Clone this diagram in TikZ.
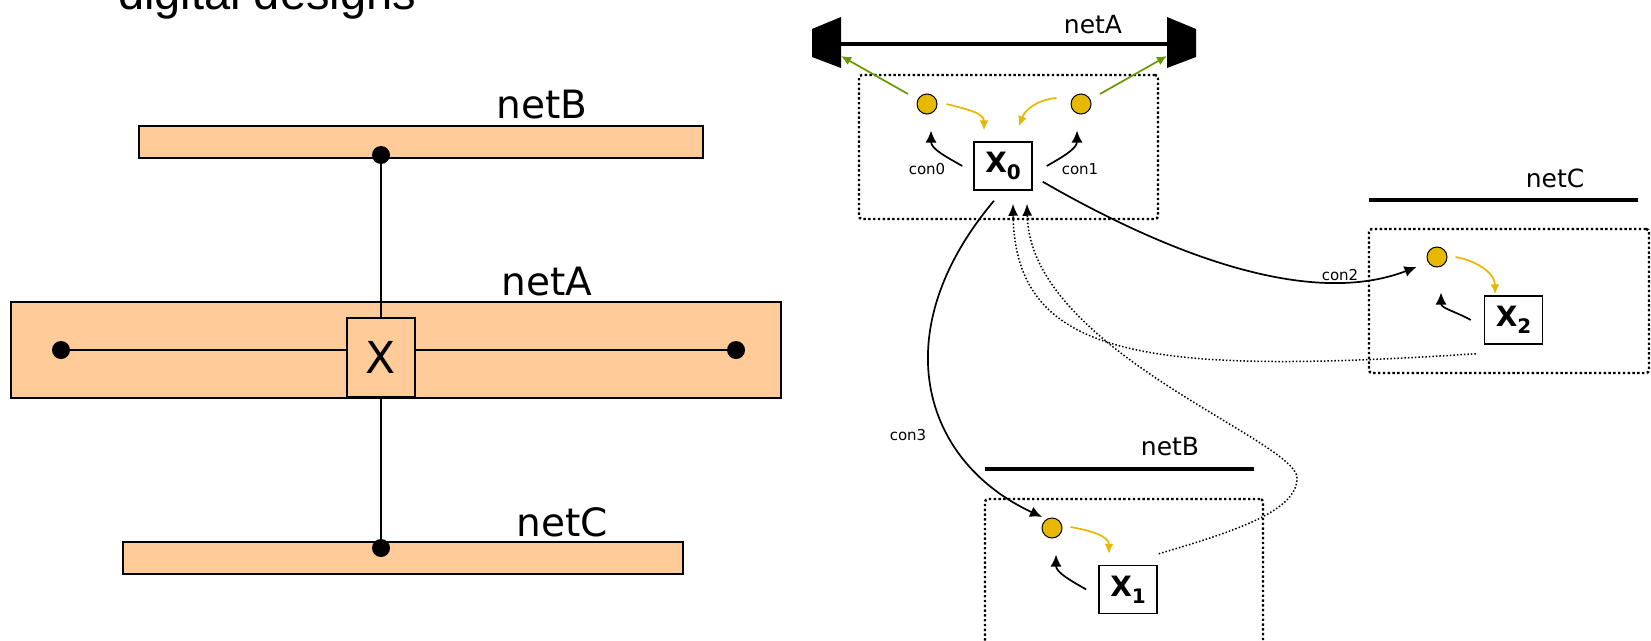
\documentclass[tikz,border=0pt]{standalone}
\usepackage{fontspec}
\setmainfont{DejaVu Sans}
\newfontfamily\titlefont{Liberation Sans}
\usetikzlibrary{arrows.meta,calc}
\definecolor{busC}{HTML}{FFCC99}
\definecolor{portC}{HTML}{E6B800}
\definecolor{bindC}{HTML}{669900}
\newcommand{\pxsize}[1]{\fontsize{#1}{#1}\selectfont}
\newcommand{\instname}[1]{{\bfseries\pxsize{28}X\raisebox{-7pt}{\pxsize{20}#1}}}
\tikzset{
  bus/.style={draw, fill=busC, line width=2.2pt, inner sep=0pt},
  pin/.style={circle, fill=black, inner sep=0pt, minimum size=18pt},
  gate/.style={draw, fill=busC, line width=2.2pt, inner sep=0pt,
               minimum width=68pt, minimum height=79pt, font=\pxsize{44}},
  lbl/.style={anchor=base, inner sep=0pt, font=\pxsize{39}},
  wire/.style={line width=4.5pt},
  cell/.style={draw, rounded corners=3pt, line width=2.4pt,
               dash pattern=on 2.4pt off 2.4pt, inner sep=0pt},
  port/.style={circle, draw, fill=portC, line width=1pt, inner sep=0pt, minimum size=20pt},
  inst/.style={draw, fill=white, line width=1.5pt, inner sep=0pt,
               minimum width=58pt, minimum height=48pt},
  netlbl/.style={anchor=base, inner sep=0pt, font=\pxsize{25}},
  conlbl/.style={inner sep=0pt, font=\pxsize{15}},
  conn/.style={-{Latex[length=12pt,width=11pt]}, line width=1.7pt},
  flow/.style={-{Latex[length=10pt,width=9pt]}, line width=1.7pt, portC},
  bind/.style={-{Latex[length=10pt,width=9pt]}, line width=1.7pt, bindC},
  back/.style={-{Latex[length=12pt,width=10pt]}, line width=1.5pt, dotted},
}

\begin{document}
\begin{tikzpicture}[x=1pt, y=-1pt]
\useasboundingbox (0,0) rectangle (1651,640);
\fill[white] (0,0) rectangle (1651,640);
\clip (0,0) rectangle (1651,640);

\node[anchor=base west, inner sep=0pt, font=\titlefont\pxsize{47}] (title) at (118,9) {digital designs};

% flat view: three nets and the cell X
\node[bus, minimum width=564pt, minimum height=32pt] (busB) at (421,142) {};
\node[bus, minimum width=770pt, minimum height=96pt] (busA) at (396,350) {};
\node[bus, minimum width=560pt, minimum height=32pt] (busC) at (403,558) {};
\node[lbl] (tB) at (542,118) {netB};
\node[lbl] (tA) at (547,295) {netA};
\node[lbl] (tC) at (562,536) {netC};
\node[gate] (gx) at (381,357.5) {X};
\node[pin] (pB) at (381,155) {};
\node[pin] (pC) at (381,548) {};
\node[pin] (pL) at (61,350) {};
\node[pin] (pR) at (736,350) {};
\draw[line width=2pt] (pB) -- (gx);
\draw[line width=2pt] (gx) -- (pC);
\draw[line width=2pt] (pL) -- (pL -| gx.west);
\draw[line width=2pt] (pR -| gx.east) -- (pR);

% object view: nets as wires
\fill (812,29) -- (841,17) -- (841,68) -- (812,57) -- cycle;
\fill (1167,17) -- (1196,29) -- (1196,57) -- (1167,68) -- cycle;
\coordinate (wAl) at (841,44);
\coordinate (wAr) at (1167,44);
\coordinate (capL) at (841,56);
\coordinate (capR) at (1167,56);
\draw[wire] (wAl) -- (wAr);
\node[netlbl] (nA) at (1093,33) {netA};
\coordinate (wCl) at (1369,200);
\coordinate (wCr) at (1638,200);
\draw[wire] (wCl) -- (wCr);
\node[netlbl] (nC) at (1555,187) {netC};
\coordinate (wBl) at (985,469);
\coordinate (wBr) at (1254,469);
\draw[wire] (wBl) -- (wBr);
\node[netlbl] (nB) at (1170,455) {netB};

% instance cells
\node[cell, minimum width=299pt, minimum height=144pt] (cellA) at (1008.5,147) {};
\node[cell, minimum width=280pt, minimum height=144pt] (cellC) at (1509,301) {};
\node[cell, minimum width=278pt, minimum height=161pt] (cellB) at (1124,579.5) {};

\node[port] (qA0) at (927,104) {};
\node[port] (qA1) at (1081,104) {};
\node[port] (qC) at (1437,257) {};
\node[port] (qB) at (1052,528) {};
\node[inst] (x0) at (1003,166) {\instname{0}};
\node[inst] (x1) at (1128,589.5) {\instname{1}};
\node[inst] (x2) at (1513.5,320) {\instname{2}};

\node[conlbl] (c0) at (927,169) {con0};
\node[conlbl] (c1) at (1080,169) {con1};
\node[conlbl] (c2) at (1340,275) {con2};
\node[conlbl] (c3) at (908,435) {con3};

% connections to the ports
\draw[conn] ($(x0.west)+(-11,0)$) to[out=150, in=-90] ($(qA0.south)+(4,16)$);
\draw[conn] ($(x0.east)+(14,0)$) to[out=30, in=-90] ($(qA1.south)+(-4,16)$);
\draw[conn] ($(x2.west)+(-13,0)$) to[out=150, in=-90] ($(qC.south)+(4,25)$);
\draw[conn] ($(x1.west)+(-12,0)$) to[out=150, in=-90] ($(qB.south)+(4,16)$);
\draw[conn] ($(x0.south east)+(10,-9)$) .. controls (1170,255) and (1310,308) .. ($(qC.west)+(-10,10)$);
\draw[conn] ($(x0.south)+(-9,10)$) .. controls (885,330) and (920,460) .. ($(qB)+(-10,-11)$);

% ports back to their owner
\draw[flow] ($(qA0.east)+(9,0)$) to[out=-15, in=90] ($(x0.north)+(-19,-11)$);
\draw[flow] ($(qA1.west)+(-14,-6)$) to[out=185, in=70] ($(x0.north)+(16,-15)$);
\draw[flow] ($(qC.east)+(8,0)$) to[out=-10, in=90] ($(x2.north)+(-18.5,-1)$);
\draw[flow] ($(qB.east)+(8,-1)$) to[out=-10, in=90] ($(x1.north)+(-19,-11)$);

% ports bound to netA
\draw[bind] ($(qA0)+(-19,-10)$) -- (capL);
\draw[bind] ($(qA1)+(19,-10)$) -- (capR);

% back references
\draw[back] ($(x2.south west)+(-8,9)$) .. controls (1150,375) and (1015,360) .. ($(x0.south)+(10,13)$);
\draw[back] ($(x1.north east)+(1,-11)$) .. controls (1240,530) and (1297,510) .. (1297,478)
  .. controls (1297,440) and (1030,350) .. ($(x0.south)+(24,13)$);
\end{tikzpicture}
\end{document}
